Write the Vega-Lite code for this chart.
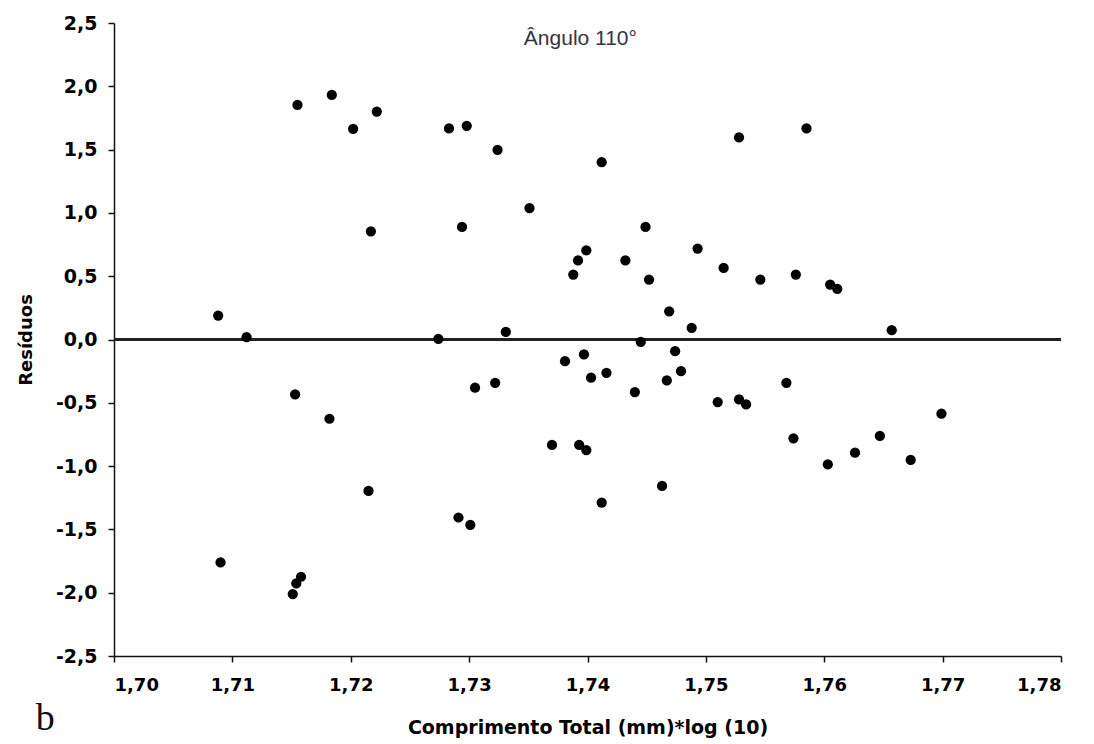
{
  "$schema": "https://vega.github.io/schema/vega-lite/v6.json",
  "width": 947,
  "height": 633,
  "autosize": {"type": "none"},
  "padding": {"left": 114, "top": 23, "right": 33, "bottom": 88},
  "background": "white",
  "config": {"view": {"stroke": null}},
  "data": {
    "values": [
      {"x": 1.7155, "y": 1.853}, {"x": 1.7184, "y": 1.932}, {"x": 1.7202, "y": 1.664}, {"x": 1.7222, "y": 1.800},
      {"x": 1.7217, "y": 0.854}, {"x": 1.7088, "y": 0.189}, {"x": 1.7112, "y": 0.018}, {"x": 1.7153, "y": -0.434},
      {"x": 1.7182, "y": -0.626}, {"x": 1.7215, "y": -1.196}, {"x": 1.7090, "y": -1.761}, {"x": 1.7158, "y": -1.874},
      {"x": 1.7154, "y": -1.927}, {"x": 1.7151, "y": -2.011}, {"x": 1.7283, "y": 1.667}, {"x": 1.7298, "y": 1.688},
      {"x": 1.7324, "y": 1.498}, {"x": 1.7412, "y": 1.401}, {"x": 1.7528, "y": 1.596}, {"x": 1.7351, "y": 1.038},
      {"x": 1.7294, "y": 0.889}, {"x": 1.7449, "y": 0.889}, {"x": 1.7399, "y": 0.704}, {"x": 1.7392, "y": 0.625},
      {"x": 1.7388, "y": 0.513}, {"x": 1.7432, "y": 0.625}, {"x": 1.7493, "y": 0.718}, {"x": 1.7452, "y": 0.473},
      {"x": 1.7515, "y": 0.565}, {"x": 1.7546, "y": 0.473}, {"x": 1.7469, "y": 0.223}, {"x": 1.7488, "y": 0.092},
      {"x": 1.7274, "y": 0.005}, {"x": 1.7331, "y": 0.060}, {"x": 1.7445, "y": -0.018}, {"x": 1.7474, "y": -0.092},
      {"x": 1.7585, "y": 1.667}, {"x": 1.7576, "y": 0.513}, {"x": 1.7605, "y": 0.434}, {"x": 1.7611, "y": 0.400},
      {"x": 1.7657, "y": 0.074}, {"x": 1.7381, "y": -0.171}, {"x": 1.7397, "y": -0.118}, {"x": 1.7305, "y": -0.381},
      {"x": 1.7322, "y": -0.342}, {"x": 1.7403, "y": -0.302}, {"x": 1.7416, "y": -0.263}, {"x": 1.7440, "y": -0.415},
      {"x": 1.7467, "y": -0.323}, {"x": 1.7479, "y": -0.250}, {"x": 1.7510, "y": -0.494}, {"x": 1.7528, "y": -0.473},
      {"x": 1.7534, "y": -0.513}, {"x": 1.7370, "y": -0.833}, {"x": 1.7393, "y": -0.833}, {"x": 1.7399, "y": -0.873},
      {"x": 1.7463, "y": -1.157}, {"x": 1.7412, "y": -1.288}, {"x": 1.7291, "y": -1.406}, {"x": 1.7301, "y": -1.464},
      {"x": 1.7568, "y": -0.342}, {"x": 1.7574, "y": -0.781}, {"x": 1.7603, "y": -0.986}, {"x": 1.7626, "y": -0.894},
      {"x": 1.7647, "y": -0.762}, {"x": 1.7673, "y": -0.951}, {"x": 1.7699, "y": -0.586}
    ]
  },
  "encoding": {
    "x": {
      "field": "x",
      "type": "quantitative",
      "scale": {"domain": [1.70, 1.78], "nice": false, "zero": false},
      "axis": {
        "title": "Comprimento Total (mm)*log (10)",
        "values": [1.70, 1.71, 1.72, 1.73, 1.74, 1.75, 1.76, 1.77, 1.78],
        "labelExpr": "replace(format(datum.value, '.2f'), '.', ',')",
        "grid": false,
        "domainColor": "#111111",
        "domainWidth": 1.5,
        "tickColor": "#111111",
        "tickWidth": 1.5,
        "tickSize": 6,
        "labelFont": "DejaVu Sans",
        "labelFontWeight": "bold",
        "labelFontSize": 18,
        "labelColor": "#000000",
        "labelPadding": 14,
        "titleFont": "DejaVu Sans",
        "titleFontWeight": "bold",
        "titleFontSize": 19,
        "titleColor": "#000000",
        "titlePadding": 24
      }
    },
    "y": {
      "field": "y",
      "type": "quantitative",
      "scale": {"domain": [-2.5, 2.5], "nice": false, "zero": false},
      "axis": {
        "title": "Resíduos",
        "values": [-2.5, -2.0, -1.5, -1.0, -0.5, 0, 0.5, 1.0, 1.5, 2.0, 2.5],
        "labelExpr": "replace(replace(format(datum.value, '.1f'), '.', ','), '−', '-')",
        "grid": false,
        "domainColor": "#111111",
        "domainWidth": 1.5,
        "tickColor": "#111111",
        "tickWidth": 1.5,
        "tickSize": 6,
        "labelFont": "DejaVu Sans",
        "labelFontWeight": "bold",
        "labelFontSize": 19,
        "labelColor": "#000000",
        "labelPadding": 11,
        "titleFont": "DejaVu Sans",
        "titleFontWeight": "bold",
        "titleFontSize": 18,
        "titleColor": "#000000",
        "titlePadding": 20
      }
    }
  },
  "layer": [
    {
      "mark": {"type": "rule", "color": "#222222", "strokeWidth": 1.6},
      "encoding": {"y": {"datum": 0}, "x": {"value": 0}, "x2": {"value": 947}}
    },
    {
      "mark": {"type": "point", "shape": "circle", "filled": true, "color": "#000000", "opacity": 1, "size": 105}
    },
    {
      "data": {"values": [{"x": 1.7394, "y": 2.37, "label": "Ângulo 110°"}]},
      "mark": {"type": "text", "font": "Liberation Sans", "fontSize": 21, "color": "#333344", "align": "center", "baseline": "middle"},
      "encoding": {"text": {"field": "label"}}
    },
    {
      "data": {"values": [{"x": 1.6942, "y": -3.0, "label": "b"}]},
      "mark": {"type": "text", "font": "Liberation Serif", "fontSize": 38, "color": "#111111", "align": "center", "baseline": "middle"},
      "encoding": {"text": {"field": "label"}}
    }
  ]
}
